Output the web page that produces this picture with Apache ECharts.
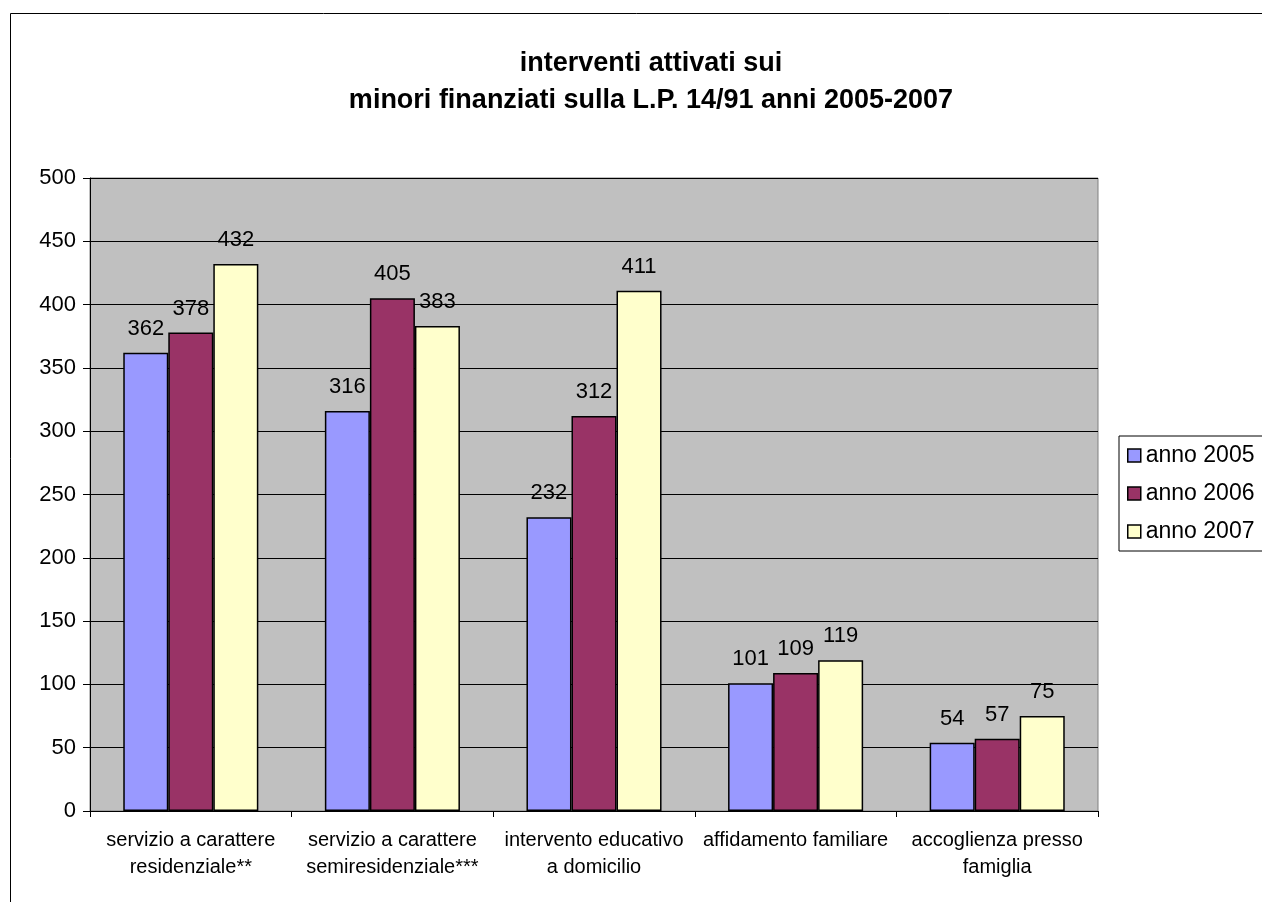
<!DOCTYPE html>
<html>
<head>
<meta charset="utf-8">
<script src="https://cdn.jsdelivr.net/npm/echarts@6/dist/echarts.min.js"></script>
<style>
  html, body { margin: 0; padding: 0; background: #fff; }
  #chart { width: 1262px; height: 902px; }
</style>
</head>
<body>
<div id="chart"></div>
<script>
// categorie e valori
const categories = [
  'servizio a carattere\nresidenziale**',
  'servizio a carattere\nsemiresidenziale***',
  'intervento educativo\na domicilio',
  'affidamento familiare',
  'accoglienza presso\nfamiglia'
]
const anno2005 = [362, 316, 232, 101, 54]
const anno2006 = [378, 405, 312, 109, 57]
const anno2007 = [432, 383, 411, 119, 75]
const seriesNames = ['anno 2005', 'anno 2006', 'anno 2007']
const colors = ['#9999FF', '#993366', '#FFFFCC']

const chart = echarts.init(document.getElementById('chart'))

const mkSeries = (name, data, color) => ({
  name: name,
  type: 'bar',
  data: data,
  barGap: '0%',
  barCategoryGap: '33%',
  itemStyle: { color: color, borderColor: '#000', borderWidth: 1.5 },
  label: {
    show: true,
    position: 'top',
    distance: 13,
    color: '#000',
    fontSize: 22,
    fontFamily: 'Liberation Sans, Arial, sans-serif'
  }
})

chart.setOption({
  animation: false,
  backgroundColor: '#fff',
  textStyle: { fontFamily: 'Liberation Sans, Arial, sans-serif' },
  title: {
    text: 'interventi attivati sui\nminori finanziati sulla L.P. 14/91 anni 2005-2007',
    left: 646,
    top: 40,
    textAlign: 'center',
    textStyle: { fontSize: 27, fontWeight: 'bold', color: '#000', lineHeight: 37 }
  },
  graphic: [{
    type: 'rect',
    shape: { x: 10.5, y: 13.5, width: 1300, height: 1000 },
    style: { fill: 'none', stroke: '#000', lineWidth: 1 },
    silent: true
  }],
  legend: {
    orient: 'vertical',
    left: 1119,
    top: 436,
    padding: [8, 40, 8, 8],
    itemGap: 15,
    itemWidth: 13,
    itemHeight: 13,
    icon: 'rect',
    borderColor: '#000',
    borderWidth: 1,
    backgroundColor: '#fff',
    itemStyle: { borderColor: '#000', borderWidth: 1.5 },
    textStyle: { fontSize: 23, lineHeight: 23, color: '#000', padding: [0, 0, 0, 0] },
    data: seriesNames
  },
  grid: {
    left: 90,
    top: 178,
    width: 1008,
    height: 633,
    show: true,
    backgroundColor: '#C0C0C0',
    borderColor: '#808080',
    borderWidth: 1,
    containLabel: false
  },
  xAxis: {
    type: 'category',
    data: categories,
    axisLine: { lineStyle: { color: '#000', width: 1 } },
    axisTick: { show: true, length: 6, lineStyle: { color: '#000' } },
    axisLabel: {
      color: '#000',
      fontSize: 20,
      lineHeight: 27,
      margin: 16,
      interval: 0
    }
  },
  yAxis: {
    type: 'value',
    min: 0,
    max: 500,
    interval: 50,
    axisLine: { show: true, lineStyle: { color: '#000', width: 1 } },
    axisTick: { show: true, length: 7, lineStyle: { color: '#000' } },
    axisLabel: { color: '#000', fontSize: 22, margin: 14 },
    splitLine: { lineStyle: { color: '#000', width: 1 } }
  },
  series: [
    mkSeries(seriesNames[0], anno2005, colors[0]),
    mkSeries(seriesNames[1], anno2006, colors[1]),
    mkSeries(seriesNames[2], anno2007, colors[2])
  ]
})
</script>
</body>
</html>
